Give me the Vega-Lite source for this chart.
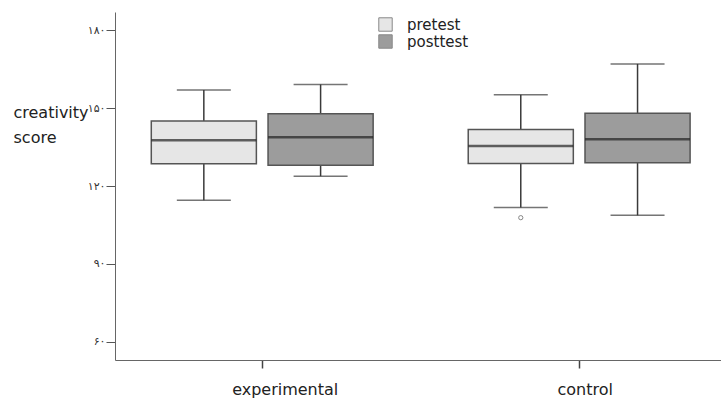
{
  "$schema": "https://vega.github.io/schema/vega-lite/v6.json",
  "width": 606,
  "height": 348,
  "autosize": {"type": "none"},
  "padding": {"left": 115, "top": 12, "right": 0, "bottom": 38},
  "background": "white",
  "config": {
    "view": {"stroke": null},
    "font": "DejaVu Sans"
  },
  "datasets": {
    "stats": [
      {"group": "experimental", "test": "pretest", "lo": 114.5, "q1": 128.6, "med": 137.6, "q3": 145.0, "hi": 157.0},
      {"group": "experimental", "test": "posttest", "lo": 123.8, "q1": 128.0, "med": 138.8, "q3": 147.8, "hi": 159.1},
      {"group": "control", "test": "pretest", "lo": 111.7, "q1": 128.7, "med": 135.4, "q3": 141.8, "hi": 155.1},
      {"group": "control", "test": "posttest", "lo": 108.7, "q1": 129.0, "med": 138.0, "q3": 148.0, "hi": 167.0}
    ],
    "outliers": [
      {"group": "control", "test": "pretest", "value": 107.8}
    ]
  },
  "encoding": {
    "x": {
      "field": "group", "type": "nominal",
      "sort": ["experimental", "control"],
      "scale": {"paddingInner": 0.3, "paddingOuter": 0.106, "align": 0.54},
      "axis": {
        "title": null, "labelAngle": 0, "labelFont": "DejaVu Sans", "labelFontSize": 16,
        "labelColor": "#222", "labelPadding": 13, "tickSize": 8, "tickColor": "#444",
        "domainColor": "#666", "tickWidth": 1.5, "labelBaseline": "top",
        "labelOffset": {"condition": {"test": "datum.value == 'experimental'", "value": 23}, "value": 6}
      }
    },
    "xOffset": {
      "field": "test", "type": "nominal",
      "sort": ["pretest", "posttest"],
      "scale": {"paddingInner": 0.1, "paddingOuter": 0}
    }
  },
  "layer": [
    {
      "data": {"name": "stats"},
      "mark": {"type": "rule", "color": "#3a3a3a", "strokeWidth": 1.5},
      "encoding": {
        "y": {
          "field": "lo", "type": "quantitative",
          "scale": {"domain": [53, 187], "nice": false, "zero": false},
          "axis": {
            "values": [60, 90, 120, 150, 180],
            "labelExpr": "datum.value == 180 ? '۱۸۰' : datum.value == 150 ? '۱۵۰' : datum.value == 120 ? '۱۲۰' : datum.value == 90 ? '۹۰' : '۶۰'",
            "labelFont": "DejaVu Sans", "labelFontSize": 11, "labelColor": "#333",
            "labelPadding": 1, "tickSize": 9, "tickColor": "#555", "domainColor": "#666",
            "grid": false,
            "title": ["creativity", "score"],
            "titleAngle": 0, "titleAlign": "left", "titleBaseline": "alphabetic",
            "titleX": -102, "titleY": 105, "titleFont": "DejaVu Sans", "titleFontSize": 16,
            "titleFontWeight": "normal", "titleColor": "#222", "titleLineHeight": 25
          }
        },
        "y2": {"field": "hi"}
      }
    },
    {
      "data": {"name": "stats"},
      "mark": {"type": "tick", "color": "#3a3a3a", "size": 54, "thickness": 1.5},
      "encoding": {"y": {"field": "lo", "type": "quantitative"}}
    },
    {
      "data": {"name": "stats"},
      "mark": {"type": "tick", "color": "#3a3a3a", "size": 54, "thickness": 1.5},
      "encoding": {"y": {"field": "hi", "type": "quantitative"}}
    },
    {
      "data": {"name": "stats"},
      "mark": {"type": "bar", "stroke": "#555", "strokeWidth": 1.5},
      "encoding": {
        "y": {"field": "q1", "type": "quantitative"},
        "y2": {"field": "q3"},
        "fill": {
          "field": "test", "type": "nominal",
          "scale": {"domain": ["pretest", "posttest"], "range": ["#e6e6e6", "#9c9c9c"]},
          "legend": {
            "title": null, "orient": "none", "legendX": 263, "legendY": 5,
            "symbolType": "square", "symbolSize": 180, "symbolStrokeColor": "#888",
            "symbolStrokeWidth": 1, "labelFont": "DejaVu Sans", "labelFontSize": 15,
            "labelColor": "#222", "labelOffset": 14, "rowPadding": -3, "padding": 0
          }
        }
      }
    },
    {
      "data": {"name": "stats"},
      "mark": {"type": "tick", "color": "#222", "size": 105, "thickness": 2.5},
      "encoding": {"y": {"field": "med", "type": "quantitative"}}
    },
    {
      "data": {"name": "outliers"},
      "mark": {"type": "point", "shape": "circle", "filled": false, "color": "#555", "size": 18, "strokeWidth": 1},
      "encoding": {"y": {"field": "value", "type": "quantitative"}}
    }
  ]
}
